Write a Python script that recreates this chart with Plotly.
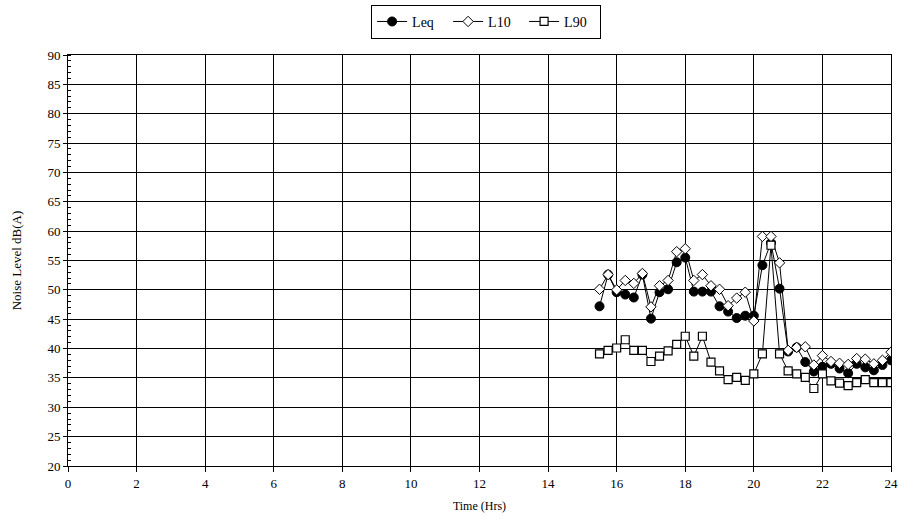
import plotly.graph_objects as go

time_hrs = [15.5, 15.75, 16.0, 16.25, 16.5, 16.75, 17.0, 17.25, 17.5, 17.75,
            18.0, 18.25, 18.5, 18.75, 19.0, 19.25, 19.5, 19.75, 20.0, 20.25,
            20.5, 20.75, 21.0, 21.25, 21.5, 21.75, 22.0, 22.25, 22.5, 22.75,
            23.0, 23.25, 23.5, 23.75, 24.0]

leq = [47.2, 52.6, 49.6, 49.2, 48.7, 52.6, 45.1, 49.6, 50.1, 54.7,
       55.5, 49.7, 49.7, 49.7, 47.2, 46.3, 45.2, 45.6, 45.6, 54.2,
       58.0, 50.2, 39.5, 40.2, 37.7, 36.1, 36.9, 37.4, 36.6, 35.8,
       37.4, 36.8, 36.3, 37.2, 38.0]

l10 = [50.1, 52.6, 50.0, 51.6, 51.1, 52.8, 47.1, 50.7, 51.6, 56.5,
       57.0, 51.6, 52.6, 50.7, 50.1, 47.3, 48.6, 49.6, 44.7, 59.1,
       59.1, 54.6, 39.7, 40.2, 40.3, 37.2, 38.8, 37.8, 37.5, 37.3,
       38.3, 38.2, 37.4, 38.0, 39.4]

l90 = [39.1, 39.7, 40.1, 41.5, 39.7, 39.7, 37.8, 38.7, 39.6, 40.7,
       42.1, 38.7, 42.1, 37.7, 36.2, 34.7, 35.1, 34.6, 35.7, 39.1,
       57.6, 39.1, 36.2, 35.7, 35.1, 33.2, 35.7, 34.5, 34.1, 33.7,
       34.2, 34.7, 34.2, 34.2, 34.2]

x_ticks = list(range(0, 25, 2))
y_ticks = list(range(20, 91, 5))

font_family = "'Liberation Serif', 'Times New Roman', serif"

fig = go.Figure()
fig.add_trace(go.Scatter(
    x=time_hrs, y=leq, name="Leq", mode="lines+markers",
    line=dict(color="black", width=1),
    marker=dict(symbol="circle", size=9, color="black",
                line=dict(color="black", width=1)),
))
fig.add_trace(go.Scatter(
    x=time_hrs, y=l10, name="L10", mode="lines+markers",
    line=dict(color="black", width=1),
    marker=dict(symbol="diamond", size=8, color="white",
                line=dict(color="black", width=1)),
))
fig.add_trace(go.Scatter(
    x=time_hrs, y=l90, name="L90", mode="lines+markers",
    line=dict(color="black", width=1),
    marker=dict(symbol="square", size=8, color="white",
                line=dict(color="black", width=1.2)),
))

fig.update_layout(
    width=901, height=524,
    margin=dict(l=68, r=10, t=55, b=58, autoexpand=False),
    paper_bgcolor="white", plot_bgcolor="white",
    font=dict(family=font_family, size=12, color="black"),
    legend=dict(
        orientation="h", x=0.508, xanchor="center", y=1.122, yanchor="top",
        bordercolor="black", borderwidth=1, bgcolor="white",
        font=dict(family=font_family, size=14, color="black"),
        entrywidth=31, entrywidthmode="pixels",
    ),
    showlegend=True,
)

fig.update_xaxes(
    range=[0, 24], tickvals=x_ticks, ticktext=[str(v) for v in x_ticks],
    showgrid=True, gridcolor="black", gridwidth=1,
    showline=True, linecolor="black", linewidth=1, mirror=True,
    ticks="outside", ticklen=5, tickcolor="black",
    zeroline=False, automargin=False,
    title=dict(text="Time (Hrs)", font=dict(family=font_family, size=12, color="black"), standoff=12),
    tickfont=dict(family=font_family, size=13, color="black"),
)
fig.update_yaxes(
    range=[20, 90], tickvals=y_ticks, ticktext=[str(v) for v in y_ticks],
    showgrid=True, gridcolor="black", gridwidth=1,
    showline=True, linecolor="black", linewidth=1, mirror=True,
    ticks="outside", ticklen=4, tickcolor="black",
    minor=dict(dtick=1, ticks="inside", ticklen=3, tickcolor="black", showgrid=False),
    zeroline=False, automargin=False,
    title=dict(text="Noise Level dB(A)", font=dict(family=font_family, size=13, color="black"), standoff=22),
    tickfont=dict(family=font_family, size=13, color="black"),
)

# remove the browser's default 8px body margin so the figure fills the window
fig.write_html("out.html", config={"displayModeBar": False},
               post_script="document.body.style.margin='0px';")
